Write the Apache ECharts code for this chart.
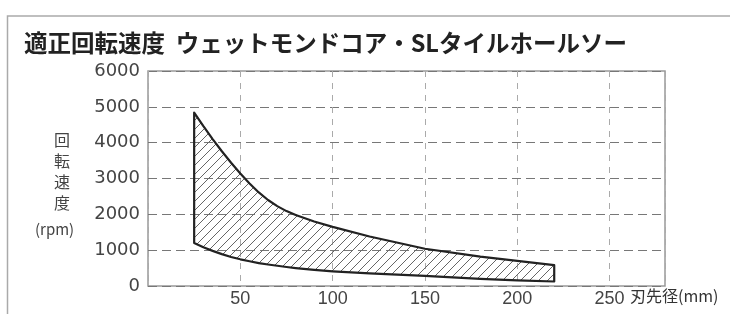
<!DOCTYPE html>
<html>
<head>
<meta charset="utf-8">
<script src="https://cdn.jsdelivr.net/npm/echarts@6/dist/echarts.min.js"></script>
<style>
html,body{margin:0;padding:0;background:#fff}
#main{width:730px;height:314px}
</style>
</head>
<body>
<div id="main"></div>
<script>
// 刃先径 (mm)
const diameter = [25, 30, 35, 40, 45, 50, 55, 60, 65, 70, 75, 80, 90, 100, 120, 150, 180, 200, 220];
// 上限の回転速度 (rpm)
const upperRpm = [4840, 4460, 4100, 3760, 3440, 3140, 2860, 2610, 2400, 2230, 2090, 1980, 1800, 1650, 1380, 1040, 820, 700, 580];
// 下限の回転速度 (rpm)
const lowerRpm = [1200, 1080, 980, 890, 810, 745, 690, 640, 600, 565, 530, 500, 450, 410, 350, 280, 200, 155, 125];
const xTicks = [50, 100, 150, 200, 250];

// 斜線のパターン
const hatch = document.createElement('canvas');
hatch.width = 9; hatch.height = 9;
const hc = hatch.getContext('2d');
hc.strokeStyle = '#666';
hc.lineWidth = 1;
hc.beginPath();
hc.moveTo(-1, 10); hc.lineTo(10, -1);
hc.moveTo(-1, 1); hc.lineTo(1, -1);
hc.moveTo(8, 10); hc.lineTo(10, 8);
hc.stroke();

const myChart = echarts.init(document.getElementById('main'));

myChart.setOption({
    animation: false,
    title: {
        text: '適正回転速度  ウェットモンドコア・SLタイルホールソー',
        left: 19,
        top: 26,
        textStyle: {
            fontFamily: 'Noto Sans CJK JP',
            fontSize: 23.5,
            fontWeight: 'bold',
            color: '#222'
        }
    },
    grid: {
        left: 148,
        right: 65,
        top: 71,
        bottom: 28,
        show: true,
        borderColor: '#999',
        borderWidth: 1.5
    },
    xAxis: {
        type: 'value',
        min: 0,
        max: 280,
        interval: 50,
        axisLine: { show: false },
        axisTick: { show: false },
        axisLabel: {
            margin: 4,
            fontFamily: 'Liberation Sans',
            fontSize: 18,
            color: '#444',
            showMaxLabel: false,
            formatter: v => xTicks.indexOf(v) >= 0 ? String(v) : ''
        },
        splitLine: {
            show: true,
            lineStyle: { color: '#aaa', type: [6, 6], width: 1 }
        }
    },
    yAxis: {
        type: 'value',
        min: 0,
        max: 6000,
        interval: 1000,
        axisLine: { show: false },
        axisTick: { show: false },
        axisLabel: {
            margin: 8,
            fontFamily: 'DejaVu Sans',
            fontSize: 18,
            color: '#444',
            formatter: v => String(v)
        },
        splitLine: {
            show: true,
            lineStyle: { color: '#777', type: [9, 5], width: 1 }
        }
    },
    graphic: [
        {
            type: 'rect',
            shape: { x: 7.5, y: 16, width: 800, height: 400 },
            style: { fill: 'none', stroke: '#aaa', lineWidth: 1.5 },
            silent: true
        },
        {
            type: 'text',
            left: 54,
            top: 129,
            style: {
                text: '回\n転\n速\n度',
                fontFamily: 'Noto Sans CJK JP',
                fontSize: 16,
                lineHeight: 21,
                fill: '#444',
                align: 'center'
            }
        },
        {
            type: 'text',
            left: 35,
            top: 222,
            style: {
                text: '(rpm)',
                fontFamily: 'Noto Sans CJK JP',
                fontSize: 15,
                fill: '#444'
            }
        },
        {
            type: 'text',
            left: 630,
            top: 288,
            style: {
                text: '刃先径(mm)',
                fontFamily: 'Noto Sans CJK JP',
                fontSize: 16,
                fill: '#333'
            }
        }
    ],
    series: [
        {
            type: 'custom',
            coordinateSystem: 'cartesian2d',
            data: [[diameter[0], upperRpm[0]]],
            renderItem: function (params, api) {
                const pts = [];
                diameter.forEach((d, i) => pts.push(api.coord([d, upperRpm[i]])));
                for (let i = diameter.length - 1; i >= 0; i--) {
                    pts.push(api.coord([diameter[i], lowerRpm[i]]));
                }
                return {
                    type: 'polygon',
                    shape: { points: pts },
                    style: {
                        fill: { image: hatch, repeat: 'repeat' },
                        stroke: '#222',
                        lineWidth: 2.2,
                        lineJoin: 'round'
                    }
                };
            }
        }
    ]
});
</script>
</body>
</html>
